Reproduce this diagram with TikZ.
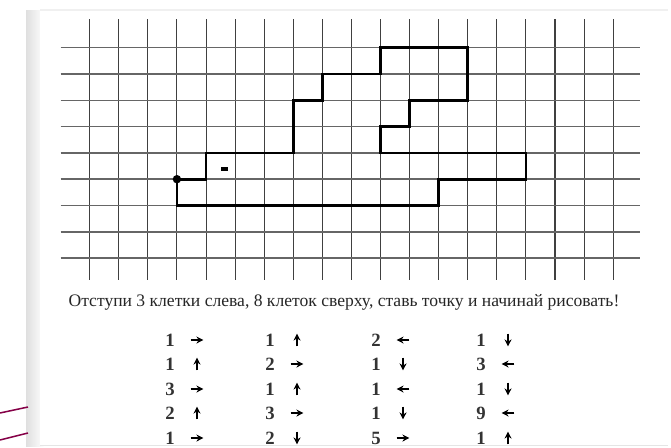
\documentclass[tikz,border=0pt]{standalone}
\usepackage{fontspec}
\setmainfont{Liberation Serif}
\usetikzlibrary{arrows.meta}

\begin{document}
\begin{tikzpicture}[x=0.03cm,y=-0.03cm,
  gridline/.style={black!75,line width=0.9pt},
  rowline/.style={black!60,line width=1.3pt},
  figline/.style={black,line width=2.4pt,line join=miter},
  dirarrow/.style={black,line width=1.6pt,-{Stealth[length=6pt,width=6pt]}},
  numlabel/.style={font=\fontsize{16}{18}\selectfont\bfseries,text=black!80,inner sep=0pt}]
\useasboundingbox (0,0) rectangle (671,448);
\fill[white] (0,0) rectangle (671,448);
\shade[left color=gray!25,right color=white] (26,10) rectangle (44,446);
\fill[white] (40,10) rectangle (668,445);
\draw[gray!20] (40,445) -- (668,445);
\draw[gray!12,line width=2pt] (40,10) -- (668,10);
\draw[violet!70!red!80!black,line width=1.3pt] (0,413) -- (28,407);
\draw[violet!70!red!80!black,line width=1.3pt] (0,440) -- (28,433);
\begin{scope}[shift={(89.7,47.7)},x=0.8724cm,y=-0.789cm]
\foreach \i in {0,...,18}{
\draw[gridline] (\i,-1.09) -- (\i,8.85);
}
\foreach \j in {0,...,8}{
\draw[rowline] (-1.0,\j) -- (18.92,\j);
}
\draw[figline] (3,5) -- (4,5) -- (4,4) -- (7,4) -- (7,2) -- (8,2) -- (8,1) -- (10,1) -- (10,0) -- (13,0) -- (13,2) -- (11,2) -- (11,3) -- (10,3) -- (10,4) -- (15,4) -- (15,5) -- (12,5) -- (12,6) -- (3,6) -- cycle;
\fill (3,5) circle (3.6pt);
\fill (4.53,4.53) rectangle (4.77,4.69);
\end{scope}
\node[font=\fontsize{15}{17}\selectfont,text=black!85,inner sep=0pt] (task) at (344,302) {Отступи 3 клетки слева, 8 клеток сверху, ставь точку и начинай рисовать!};
\foreach \px/\py/\n/\a [count=\k] in {
170/340/1/0,170/364/1/90,170/389/3/0,170/413/2/90,170/438/1/0,
270/340/1/90,270/364/2/0,270/389/1/90,270/413/3/0,270/438/2/270,
376/340/2/180,376/364/1/270,376/389/1/180,376/413/1/270,376/438/5/0,
481/340/1/270,481/364/3/180,481/389/1/270,481/413/9/180,481/438/1/90}{
\node[numlabel] (num\k) at (\px,\py) {\n};
\coordinate (dir\k) at (\px+27,\py);
\draw[dirarrow] (dir\k) ++(\a+180:5.5pt) -- ++(\a:11pt);
}
\end{tikzpicture}
\end{document}
